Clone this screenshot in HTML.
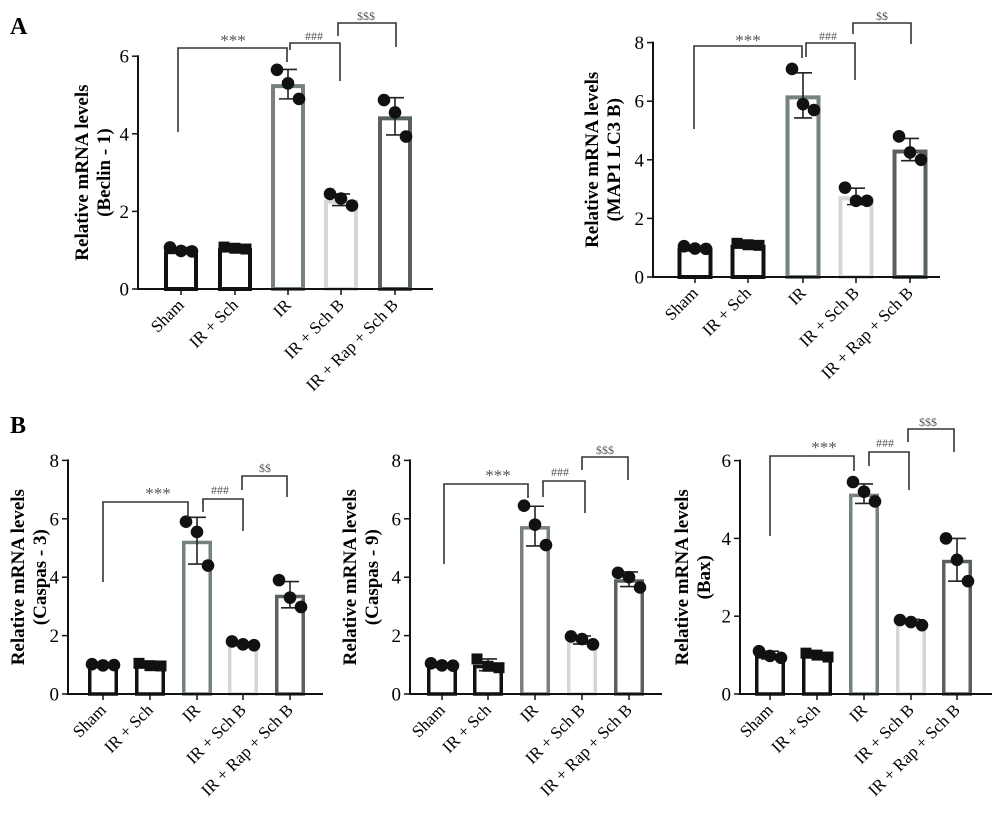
<!DOCTYPE html>
<html><head><meta charset="utf-8"><style>
html,body{margin:0;padding:0;background:#fff;}
svg{display:block;font-family:"Liberation Serif",serif;}
</style></head><body>
<svg id="s" width="1000" height="834" xmlns="http://www.w3.org/2000/svg">
<text x="10" y="34" font-size="24" font-weight="bold">A</text>
<text x="10" y="433" font-size="24" font-weight="bold">B</text>
</svg>
<script>
const NS="http://www.w3.org/2000/svg";
const s=document.getElementById('s');
function el(t,a,txt){const e=document.createElementNS(NS,t);for(const k in a)e.setAttribute(k,a[k]);if(txt!=null)e.textContent=txt;s.appendChild(e);return e;}
const cols=['#111','#111','#77817d','#d3d8d5','#59615f'];
const names=['Sham','IR + Sch','IR','IR + Sch B','IR + Rap + Sch B'];
const P=[
 {ax:138,y0:289,pu:38.8,max:6,end:433,xs:[181,235,288,341,395],bw:34,sw:4,lab:['Relative mRNA levels','(Beclin - 1)'],lx:[88,110],
  m:[1,1.05,5.28,2.3,4.45],sd:[.07,.04,.38,.15,.48],pts:[[1.07,.98,.97],[1.08,1.05,1.03],[5.65,5.3,4.9],[2.45,2.33,2.15],[4.87,4.55,3.93]],
  br:[[178,132,287,62,48,'***',233,44],[290,50,340,81,43,'###',314,40],[338,36,396,47,23,'$$$',366,20]]},
 {ax:653,y0:277,pu:29.3,max:8,end:940,xs:[695,748,803,856,910],bw:35,sw:4,lab:['Relative mRNA levels','(MAP1 LC3 B)'],lx:[598,620],
  m:[1,1.1,6.2,2.75,4.35],sd:[.05,.05,.77,.28,.38],pts:[[1.05,.97,.96],[1.15,1.1,1.08],[7.1,5.9,5.7],[3.05,2.6,2.6],[4.8,4.25,4.0]],
  br:[[694,129,802,58,46,'***',748,44],[806,57,855,80,43,'###',828,40],[853,34,911,44,23,'$$',882,20]]},
 {ax:68,y0:694,pu:29.2,max:8,end:323,xs:[103,150,197,243,290],bw:30,sw:3.5,lab:['Relative mRNA levels','(Caspas - 3)'],lx:[24,46],
  m:[1,1,5.25,1.72,3.4],sd:[.03,.05,.8,.06,.45],pts:[[1.02,.98,.99],[1.05,.97,.96],[5.9,5.55,4.4],[1.8,1.7,1.67],[3.9,3.3,2.98]],
  br:[[103,582,188,517,502,'***',158,497],[203,512,243,531,499,'###',220,494],[242,490,287,497,476,'$$',265,472]]},
 {ax:410,y0:694,pu:29.2,max:8,end:662,xs:[442,488,535,582,629],bw:30,sw:3.5,lab:['Relative mRNA levels','(Caspas - 9)'],lx:[356,378],
  m:[1,1,5.75,1.85,3.93],sd:[.05,.2,.68,.14,.25],pts:[[1.05,.98,.97],[1.2,.95,.9],[6.45,5.8,5.1],[1.97,1.88,1.7],[4.15,4.0,3.65]],
  br:[[444,564,528,498,484,'***',498,479],[543,497,585,513,481,'###',560,476],[582,470,628,480,457,'$$$',605,454]]},
 {ax:740,y0:694,pu:38.9,max:6,end:992,xs:[770,817,864,911,957],bw:30,sw:3.5,lab:['Relative mRNA levels','(Bax)'],lx:[688,710],
  m:[1,1,5.15,1.87,3.45],sd:[.1,.06,.25,.05,.55],pts:[[1.1,.98,.93],[1.05,1.0,.95],[5.45,5.2,4.95],[1.9,1.85,1.77],[4.0,3.45,2.9]],
  br:[[770,536,854,471,456,'***',824,451],[869,466,909,490,452,'###',885,447],[908,442,954,452,429,'$$$',928,426]]}
];
P.forEach(p=>{
 const Y=v=>p.y0-v*p.pu;
 p.xs.forEach((x,i)=>{
  const h=p.m[i]*p.pu;
  el('rect',{x:x-p.bw/2+p.sw/2,y:Y(p.m[i])+p.sw/2,width:p.bw-p.sw,height:h-p.sw/2,fill:'#fff',stroke:cols[i],'stroke-width':p.sw});
  const hi=Y(p.m[i]+p.sd[i]),lo=Y(p.m[i]-p.sd[i]);
  el('line',{x1:x,y1:hi,x2:x,y2:lo,stroke:'#222','stroke-width':1.6});
  el('line',{x1:x-9,y1:hi,x2:x+9,y2:hi,stroke:'#222','stroke-width':1.6});
  el('line',{x1:x-9,y1:lo,x2:x+9,y2:lo,stroke:'#222','stroke-width':1.6});
  p.pts[i].forEach((v,j)=>{
   const px=x+(j-1)*11;
   if(i==1) el('rect',{x:px-5.5,y:Y(v)-5.5,width:11,height:11,fill:'#111'});
   else el('circle',{cx:px,cy:Y(v),r:6.3,fill:'#111'});
  });
  el('line',{x1:x,y1:p.y0,x2:x,y2:p.y0+6,stroke:'#111','stroke-width':1.5});
  el('text',{x:x+4,y:p.y0+17,'font-size':17,'text-anchor':'end',transform:`rotate(-45 ${x+4} ${p.y0+17})`},names[i]);
 });
 el('line',{x1:p.ax,y1:Y(p.max)-1,x2:p.ax,y2:p.y0+1,stroke:'#111','stroke-width':2});
 el('line',{x1:p.ax-1,y1:p.y0,x2:p.end,y2:p.y0,stroke:'#111','stroke-width':2});
 for(let v=0;v<=p.max;v+=2){
  el('line',{x1:p.ax-6,y1:Y(v),x2:p.ax,y2:Y(v),stroke:'#111','stroke-width':1.5});
  el('text',{x:p.ax-9,y:Y(v)+6.5,'font-size':19,'text-anchor':'end'},v);
 }
 const cy=Y(p.max/2);
 p.lab.forEach((t,k)=>el('text',{x:p.lx[k],y:cy,'font-size':19,'font-weight':'bold','text-anchor':'middle',transform:`rotate(-90 ${p.lx[k]} ${cy})`},t));
 p.br.forEach(b=>{
  el('polyline',{points:`${b[0]},${b[1]} ${b[0]},${b[4]} ${b[2]},${b[4]} ${b[2]},${b[3]}`,fill:'none',stroke:'#333','stroke-width':1.6});
  el('text',{x:b[6],y:b[7]+(b[5]=='***'?2:0),'font-size':b[5]=='***'?17:12,'text-anchor':'middle',fill:'#555'},b[5]);
 });
});
</script>
</body></html>
